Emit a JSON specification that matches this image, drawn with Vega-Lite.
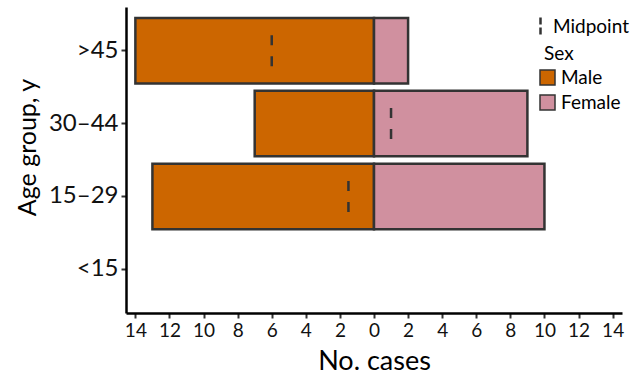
{
  "$schema": "https://vega.github.io/schema/vega-lite/v6.json",
  "width": 496,
  "height": 306,
  "autosize": {"type": "none"},
  "padding": {"left": 126, "top": 7, "right": 21, "bottom": 66},
  "config": {
    "font": "Lato",
    "view": {"stroke": null},
    "axis": {"grid": false},
    "axisX": {
      "labelOverlap": false,
      "labelFlush": false,
      "titleFontSize": 27,
      "titleFontWeight": "normal",
      "titleColor": "#000",
      "titlePadding": 8,
      "labelFontSize": 19,
      "labelColor": "#111",
      "labelPadding": 3,
      "tickSize": 5,
      "tickWidth": 2,
      "tickColor": "#333",
      "domainColor": "#000",
      "domainWidth": 2.5
    }
  },
  "datasets": {
    "bars": [
      {"age": ">45", "sex": "Male", "cases": -14},
      {"age": ">45", "sex": "Female", "cases": 2},
      {"age": "30–44", "sex": "Male", "cases": -7},
      {"age": "30–44", "sex": "Female", "cases": 9},
      {"age": "15–29", "sex": "Male", "cases": -13},
      {"age": "15–29", "sex": "Female", "cases": 10}
    ],
    "mids": [
      {"age": ">45", "midpoint": -6},
      {"age": "30–44", "midpoint": 1},
      {"age": "15–29", "midpoint": -1.5}
    ]
  },
  "encoding": {
    "y": {
      "field": "age",
      "type": "nominal",
      "scale": {"domain": [">45", "30–44", "15–29", "<15"], "paddingInner": 0.1, "paddingOuter": 0.15},
      "axis": {
        "title": "Age group, y",
        "titleFontSize": 25,
        "titleFontWeight": "normal",
        "titleColor": "#000",
        "titlePadding": 8,
        "titleY": 140,
        "labelFontSize": 24,
        "labelColor": "#111",
        "labelPadding": 3,
        "tickSize": 5,
        "tickWidth": 2,
        "tickColor": "#333",
        "domainColor": "#000",
        "domainWidth": 2.5
      }
    }
  },
  "layer": [
    {
      "data": {"name": "bars"},
      "mark": {"type": "bar", "stroke": "#333333", "strokeWidth": 2.5},
      "encoding": {
        "x": {
          "field": "cases",
          "type": "quantitative",
          "stack": null,
          "scale": {"domain": [-14.55, 14.55], "nice": false, "zero": false},
          "axis": {
            "title": "No. cases",
            "values": [-14, -12, -10, -8, -6, -4, -2, 0, 2, 4, 6, 8, 10, 12, 14],
            "labelExpr": "abs(datum.value)"
          }
        },
        "fill": {
          "field": "sex",
          "type": "nominal",
          "scale": {"domain": ["Male", "Female"], "range": ["#CC6600", "#D0909F"]},
          "legend": {
            "title": "Sex",
            "orient": "none",
            "legendX": 412,
            "legendY": 38,
            "titleFontSize": 19,
            "titleFontWeight": "normal",
            "titleColor": "#000",
            "titlePadding": 4,
            "labelFontSize": 19,
            "labelColor": "#000",
            "labelOffset": 4,
            "symbolType": "square",
            "symbolSize": 225,
            "symbolStrokeColor": "#333333",
            "symbolStrokeWidth": 1.5,
            "symbolOpacity": 1,
            "rowPadding": 4,
            "encode": {"title": {"update": {"dx": {"value": 6}}}}
          }
        }
      }
    },
    {
      "data": {"name": "mids"},
      "mark": {"type": "rule", "strokeWidth": 2.5, "strokeDash": [10, 11], "yOffset": -15.5, "y2Offset": 15.5},
      "encoding": {
        "x": {
          "field": "midpoint",
          "type": "quantitative",
          "axis": {
            "title": "No. cases",
            "values": [-14, -12, -10, -8, -6, -4, -2, 0, 2, 4, 6, 8, 10, 12, 14],
            "labelExpr": "abs(datum.value)"
          }
        },
        "y2": {"field": "age"},
        "stroke": {
          "datum": "Midpoint",
          "scale": {"domain": ["Midpoint"], "range": ["#333333"]},
          "legend": {
            "title": null,
            "orient": "none",
            "legendX": 404,
            "legendY": 9,
            "labelFontSize": 19,
            "labelColor": "#000",
            "labelOffset": 2,
            "symbolType": "M0,-1L0,1",
            "symbolSize": 324,
            "symbolStrokeWidth": 2.5,
            "symbolDash": [7, 3],
            "encode": {"symbols": {"update": {"strokeDash": {"value": [7, 3]}}}}
          }
        }
      }
    },
    {
      "mark": {"type": "rule", "color": "#000", "strokeWidth": 2.5},
      "encoding": {
        "x": {
          "datum": 0,
          "axis": {
            "title": "No. cases",
            "values": [-14, -12, -10, -8, -6, -4, -2, 0, 2, 4, 6, 8, 10, 12, 14],
            "labelExpr": "abs(datum.value)"
          }
        },
        "y": {"value": 0},
        "y2": {"value": 306}
      }
    }
  ]
}
